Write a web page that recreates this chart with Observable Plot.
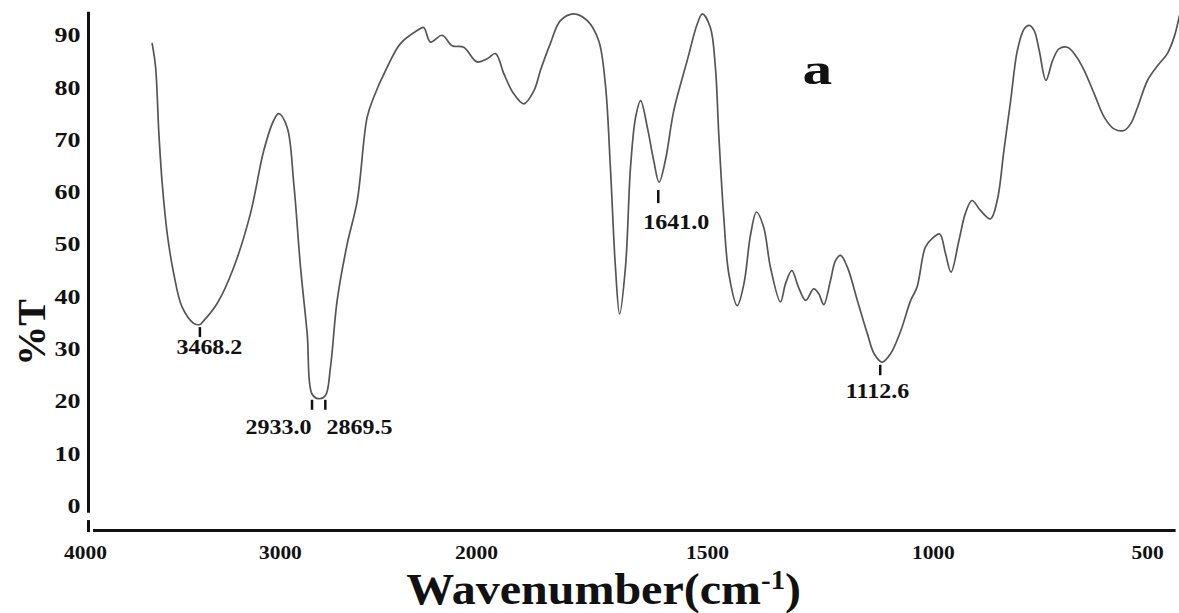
<!DOCTYPE html>
<html>
<head>
<meta charset="utf-8">
<script src="https://cdn.jsdelivr.net/npm/d3@7"></script>
<script src="https://cdn.jsdelivr.net/npm/@observablehq/plot@0.6"></script>
<style>
  html, body { margin: 0; padding: 0; background: #fff; }
</style>
</head>
<body>
<div id="chart"></div>
<script>
// Spectrum (wavenumber, %T)
const wavenumber = [3696,3680,3664,3648,3624,3593,3553,3497,3468,3457,3386,3306,3227,3163,3116,3092,3052,3020,2988,2956,2933,2901,2869,2845,2813,2765,2717,2670,2638,2574,2511,2431,2400,2368,2312,2264,2209,2145,2097,2057,2017,1985,1961,1937,1921,1898,1874,1842,1810,1783,1767,1755,1743,1733,1719,1707,1695,1683,1667,1652,1639,1624,1604,1572,1548,1536,1517,1505,1497,1485,1473,1453,1437,1421,1407,1390,1374,1350,1338,1323,1307,1290,1271,1259,1247,1231,1219,1207,1191,1167,1143,1127,1108,1088,1064,1040,1025,1005,989,971,957,944,925,910,894,874,850,834,818,802,786,770,758,746,734,718,702,687,667,647,627,603,579,556,532,516,500,476,452,429,413,400];
const transmittance = [88.5,84.1,71.3,61.7,52.1,44.5,38.1,35.0,34.8,35.2,38.8,45.8,56.0,68.1,73.8,75.1,72.5,61.7,45.8,33.0,21.5,20.6,21.2,26.6,39.4,50.2,58.5,74.4,78.3,84.0,88.5,91.0,91.6,88.8,90.1,88.1,87.8,85.0,85.6,86.6,82.7,78.9,77.0,79.5,83.5,88.5,92.9,94.2,92.9,89.1,80.8,64.9,45.8,36.8,45.8,64.9,74.4,77.6,72.5,66.2,62.0,66.2,75.7,85.3,92.3,94.2,91.6,84.0,71.3,55.3,44.5,38.4,42.6,52.1,56.3,53.4,45.8,39.1,42.6,45.1,41.9,39.4,41.6,40.7,38.6,43.2,47.0,48.0,45.8,39.4,33.0,29.2,27.6,29.2,33.5,39.4,41.9,49.6,51.2,52.1,48.3,44.8,50.9,56.0,58.5,56.6,55.0,58.5,68.1,77.6,87.2,91.3,92.0,91.0,87.2,81.5,85.3,87.5,87.8,86.2,83.4,78.9,74.4,72.2,71.9,73.2,76.3,81.5,84.3,86.6,89.7,93.9];

// Axis tick labels (as printed) and where they sit along the wavenumber axis in the figure
const xTickLabels = ["4000", "3000", "2000", "1500", "1000", "500"];
const xTickAt = [4014, 3084, 2148, 1524, 986, 476];
const yTicks = [0, 10, 20, 30, 40, 50, 60, 70, 80, 90];

// Peak annotations
const peakLabels = ["3468.2", "2933.0", "2869.5", "1641.0", "1112.6"];
const peakWn = [3468.2, 2933.0, 2869.5, 1641.0, 1112.6];
const peakTickTop = [34.2, 20.3, 20.3, 60.4, 27.0];
const peakTickBottom = [32.3, 18.4, 18.4, 57.9, 25.0];
const peakLabelWn = [3423, 3093, 2706, 1598, 1119];
const peakLabelT = [30.4, 15.1, 15.1, 54.3, 22.0];

const panelLabel = "a";
const xTitle = "Wavenumber(cm-1)";
const yTitle = "%T";

const spectrum = wavenumber.map((w, i) => ({w, t: transmittance[i]}));
const peaks = peakLabels.map((label, i) => ({
  label, w: peakWn[i], top: peakTickTop[i], bottom: peakTickBottom[i],
  lw: peakLabelWn[i], lt: peakLabelT[i]
}));
const xTickData = xTickLabels.map((label, i) => ({label, at: xTickAt[i]}));

// FTIR convention: region below 2000 cm-1 expanded ~2x
const expand = 2.005;
const warp = w => (w >= 2000 ? w : 2000 - (2000 - w) * expand);

const font = "'Liberation Serif', 'Times New Roman', serif";
const ink = "#111";

const chart = Plot.plot({
  width: 1179,
  height: 613,
  marginTop: 9.15,
  marginBottom: 83,
  marginLeft: 88,
  marginRight: 0,
  style: {fontFamily: font, fontWeight: "bold", fontSize: "19px", color: ink, background: "#fff", overflow: "visible"},
  x: {type: "linear", transform: warp, domain: [4000, warp(400)], range: [88, 1179], axis: null},
  y: {domain: [-4.6, 95], axis: null},
  marks: [
    // tick labels
    Plot.text(yTicks, {y: d => d, frameAnchor: "left", dx: -8, textAnchor: "end", text: d => String(d), fontSize: 20, fontWeight: "bold", fill: ink, className: "ytick"}),
    Plot.text(xTickData, {x: "at", y: () => -8.9, text: "label", fontSize: 19, fontWeight: "bold", fill: ink, className: "xtick"}),
    // axes lines
    Plot.ruleX([4000], {y1: -1.3, y2: 94.5, stroke: ink, strokeWidth: 3}),
    Plot.ruleX([4000], {y1: -2.7, y2: -5.0, stroke: ink, strokeWidth: 3}),
    Plot.ruleY([-4.6], {x1: 3976, x2: 408, stroke: ink, strokeWidth: 3}),
    // spectrum
    Plot.line(spectrum, {x: "w", y: "t", stroke: "#555", strokeWidth: 1.7, curve: "catmull-rom"}),
    // peak ticks & labels
    Plot.ruleX(peaks, {x: "w", y1: "top", y2: "bottom", stroke: ink, strokeWidth: 2.5}),
    Plot.text(peaks, {x: "lw", y: "lt", text: "label", fontSize: 20, fontWeight: "bold", fill: ink, className: "peaklab"}),
    // panel label
    Plot.text([panelLabel], {x: () => 1262, y: () => 83.5, text: d => d, fontSize: 44, fontWeight: "bold", fill: ink, className: "panel"}),
    // y title
    Plot.text([yTitle], {x: () => 4267, y: () => 33.3, text: d => d, rotate: -90, fontSize: 40, fontWeight: "bold", fill: ink}),
    // x title
    Plot.text([xTitle], {x: () => 1771, y: () => -15.9, text: d => d, fontSize: 44, fontWeight: "bold", fill: ink, className: "xtitle"})
  ]
});

document.getElementById("chart").appendChild(chart);

// superscript for cm-1
d3.select(chart).selectAll("text").filter(function() { return this.textContent === xTitle; })
  .each(function() {
    const t = d3.select(this);
    t.text(null);
    t.append("tspan").text("Wavenumber(cm");
    t.append("tspan").attr("baseline-shift", "super").attr("font-size", "60%").text("-1");
    t.append("tspan").text(")");
  });

// horizontal stretch of glyphs (the reference lettering is wide)
function stretch(sel, s, anchor) {
  d3.select(chart).selectAll(sel).each(function() {
    const b = this.getBBox();
    const c = anchor === "end" ? b.x + b.width : b.x + b.width / 2;
    const f = typeof s === "function" ? s(b) : s;
    const t = this.getAttribute("transform") || "";
    this.setAttribute("transform", `${t} translate(${c},0) scale(${f},1) translate(${-c},0)`);
  });
}
stretch("g.ytick text", 1.3, "end");
stretch("g.xtick text", 1.13, "middle");
stretch("g.peaklab text", 1.2, "middle");
stretch("g.panel text", 1.35, "middle");
stretch("g.xtitle text", b => 395 / b.width, "middle");
</script>
</body>
</html>
